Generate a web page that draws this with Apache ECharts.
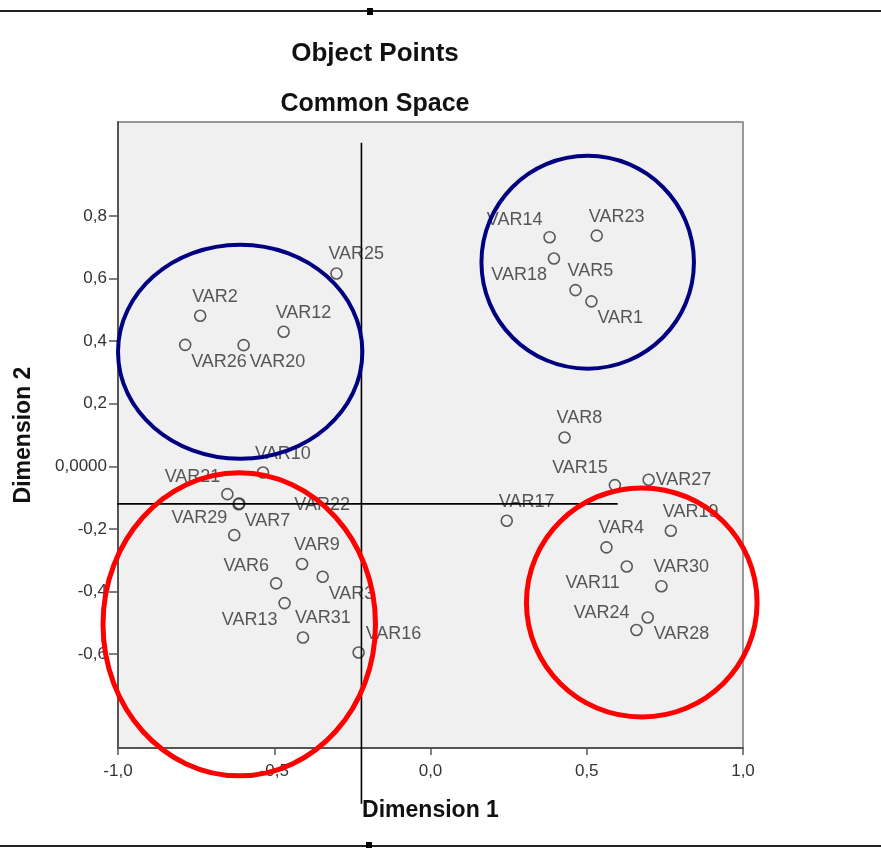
<!DOCTYPE html>
<html>
<head>
<meta charset="utf-8">
<script src="https://cdn.jsdelivr.net/npm/echarts@6/dist/echarts.min.js"></script>
<style>html,body{margin:0;padding:0;background:#fff;}#c{width:881px;height:848px;}</style>
</head>
<body>
<div id="c"></div>
<script>
// ---- data ----
const names = ['VAR1','VAR2','VAR3','VAR4','VAR5','VAR6','VAR7','VAR8','VAR9','VAR10','VAR11','VAR12','VAR13','VAR14','VAR15','VAR16','VAR17','VAR18','VAR19','VAR20','VAR21','VAR22','VAR23','VAR24','VAR25','VAR26','VAR27','VAR28','VAR29','VAR30','VAR31'];
const dim1 = [0.515,-0.737,-0.345,0.563,0.464,-0.494,-0.614,0.429,-0.411,-0.536,0.628,-0.470,-0.467,0.381,0.590,-0.230,0.244,0.395,0.769,-0.598,-0.650,-0.612,0.532,0.659,-0.301,-0.785,0.698,0.695,-0.628,0.739,-0.408];
const dim2 = [0.527,0.481,-0.353,-0.259,0.563,-0.374,-0.121,0.092,-0.312,-0.020,-0.320,0.430,-0.437,0.732,-0.060,-0.595,-0.174,0.664,-0.206,0.387,-0.089,-0.119,0.737,-0.523,0.616,0.388,-0.043,-0.483,-0.220,-0.383,-0.547];
const xTicks = [-1.0,-0.5,0.0,0.5,1.0];
const yTicks = [-0.6,-0.4,-0.2,0.0,0.2,0.4,0.6,0.8];
// annotation ellipses: [centerX, centerY, radiusX, radiusY] in data units
const blueEllipses = [[-0.609,0.366,0.391,0.342],[0.503,0.652,0.340,0.340]];
const redEllipses = [[-0.612,-0.505,0.436,0.484],[0.676,-0.435,0.369,0.366]];
// reference lines (data units)
const vLine = [[-0.221,1.034],[-0.221,-1.078]];
const hLine = [[-1.096,-0.120],[0.599,-0.120]];

// ---- label placement (style) ----
const place = {
  UR:{align:'left',offset:[-8,-19]},
  URR:{align:'left',offset:[7,-19]},
  DR:{align:'left',offset:[6,17]},
  UL:{align:'right',offset:[-7,-17]},
  DL:{align:'right',offset:[-7,17]},
  R:{align:'left',offset:[7,0]},
  V22:{align:'left',offset:[55,1]}
};
const placeOf = {
  VAR26:'DR',VAR20:'DR',VAR1:'DR',VAR7:'DR',VAR3:'DR',VAR28:'DR',
  VAR14:'UL',VAR21:'UL',VAR29:'UL',VAR6:'UL',VAR15:'UL',VAR24:'UL',
  VAR18:'DL',VAR13:'DL',VAR11:'DL',
  VAR27:'R',VAR22:'V22',VAR16:'URR'
};

const pts = names.map((n,i)=>{
  const p = place[placeOf[n]||'UR'];
  return {name:n,value:[dim1[i],dim2[i]],label:{align:p.align,offset:p.offset}};
});

const fmt = v => (Math.abs(v)<1e-9 ? '0,0000' : v.toFixed(1).replace('.',','));
const fmtX = v => v.toFixed(1).replace('.',',');

function ellipseSeries(data,color,width){
  return {
    type:'custom', silent:true, clip:false, z:5,
    data:data,
    renderItem:function(params,api){
      const c = api.coord([api.value(0),api.value(1)]);
      const s = api.size([api.value(2),api.value(3)]);
      return {type:'ellipse',shape:{cx:c[0],cy:c[1],rx:s[0],ry:s[1]},
        style:{fill:'none',stroke:color,lineWidth:width}};
    }
  };
}

const chart = echarts.init(document.getElementById('c'));
chart.setOption({
  backgroundColor:'#ffffff',
  animation:false,
  title:[
    {text:'Object Points',left:370,top:36,textAlign:'center',
     textStyle:{fontFamily:'Liberation Sans, Arial',fontWeight:'bold',fontSize:26,color:'#111'}},
    {text:'Common Space',left:370,top:87,textAlign:'center',
     textStyle:{fontFamily:'Liberation Sans, Arial',fontWeight:'bold',fontSize:25,color:'#111'}}
  ],
  grid:{left:118,right:138,top:122,bottom:100,show:true,backgroundColor:'#f0f0f0',borderColor:'#7a7a7a',borderWidth:1.5},
  xAxis:{
    type:'value',min:-1,max:1,interval:0.5,
    name:'Dimension 1',nameLocation:'middle',nameGap:51,
    nameTextStyle:{fontFamily:'Liberation Sans, Arial',fontWeight:'bold',fontSize:23,color:'#111'},
    axisLine:{show:true,onZero:false,lineStyle:{color:'#555',width:2}},
    axisTick:{show:true,length:7,lineStyle:{color:'#555',width:1.5}},
    axisLabel:{formatter:fmtX,margin:15,fontFamily:'Liberation Sans, Arial',fontSize:17,color:'#333',showMinLabel:true,showMaxLabel:true},
    splitLine:{show:false}
  },
  yAxis:{
    type:'value',min:-0.9,max:1.1,
    name:'Dimension 2',nameLocation:'middle',nameGap:83,
    nameTextStyle:{fontFamily:'Liberation Sans, Arial',fontWeight:'bold',fontSize:23,color:'#111'},
    axisLine:{show:true,onZero:false,lineStyle:{color:'#555',width:2}},
    axisTick:{show:true,length:9,customValues:yTicks,lineStyle:{color:'#555',width:1.5}},
    axisLabel:{formatter:fmt,margin:11,customValues:yTicks,fontFamily:'Liberation Sans, Arial',fontSize:17,color:'#333'},
    splitLine:{show:false}
  },
  graphic:[
    {type:'line',shape:{x1:0,y1:11,x2:881,y2:11},style:{stroke:'#222',lineWidth:2}},
    {type:'rect',shape:{x:367,y:8,width:6,height:7},style:{fill:'#000'}},
    {type:'line',shape:{x1:0,y1:846,x2:881,y2:846},style:{stroke:'#222',lineWidth:2}},
    {type:'rect',shape:{x:366,y:842,width:6,height:7},style:{fill:'#000'}}
  ],
  series:[
    {
      type:'scatter',symbol:'circle',symbolSize:11,z:3,
      itemStyle:{color:'rgba(0,0,0,0)',borderColor:'#333',borderWidth:1.6},
      label:{show:true,position:'inside',formatter:'{b}',verticalAlign:'middle',
        fontFamily:'Liberation Sans, Arial',fontSize:18,color:'#2e2e2e'},
      data:pts
    },
    {type:'line',data:vLine,symbol:'none',clip:false,silent:true,z:4,lineStyle:{color:'#000',width:1.6}},
    {type:'line',data:hLine,symbol:'none',clip:false,silent:true,z:4,lineStyle:{color:'#000',width:1.6}},
    ellipseSeries(blueEllipses,'#000080',4),
    ellipseSeries(redEllipses,'#ff0000',5)
  ]
});
</script>
</body>
</html>
